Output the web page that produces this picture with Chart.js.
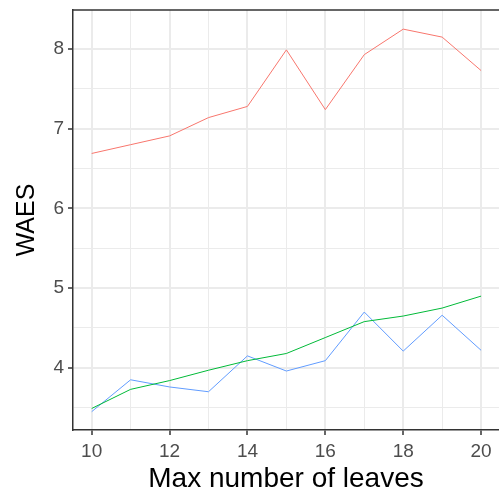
<!DOCTYPE html>
<html>
<head>
<meta charset="utf-8">
<script src="https://cdn.jsdelivr.net/npm/chart.js@4.4.1/dist/chart.umd.min.js"></script>
<style>
  html, body { margin: 0; padding: 0; background: #fff; }
  #wrap { width: 499px; height: 492px; }
</style>
</head>
<body>
<div id="wrap"><canvas id="waesChart"></canvas></div>
<script>
  let leaves = [10, 11, 12, 13, 14, 15, 16, 17, 18, 19, 20];
  let redWaes = [6.69, 6.80, 6.91, 7.14, 7.28, 7.99, 7.24, 7.93, 8.25, 8.15, 7.73];
  let greenWaes = [3.49, 3.73, 3.84, 3.97, 4.09, 4.18, 4.38, 4.58, 4.65, 4.75, 4.90];
  let blueWaes = [3.45, 3.85, 3.76, 3.70, 4.15, 3.96, 4.09, 4.70, 4.21, 4.66, 4.22];

  let xTicks = [10, 11, 12, 13, 14, 15, 16, 17, 18, 19, 20];
  let yTicks = [3.5, 4, 4.5, 5, 5.5, 6, 6.5, 7, 7.5, 8];

  function points(ys) {
    return leaves.map(function (x, i) { return { x: x, y: ys[i] }; });
  }

  let xMajor = function (v) { return v % 2 === 0; };
  let yMajor = function (v) { return Number.isInteger(v); };

  // top edge of the panel box; left/bottom come from the axis borders
  let panelBox = {
    id: 'panelBox',
    afterDraw: function (chart) {
      let a = chart.chartArea;
      let c = chart.ctx;
      c.save();
      c.strokeStyle = '#333333';
      c.lineWidth = 1.5;
      c.beginPath();
      c.moveTo(a.left, a.top);
      c.lineTo(a.right, a.top);
      c.stroke();
      c.restore();
    }
  };

  let ctx = document.getElementById('waesChart').getContext('2d');

  let waesChart = new Chart(ctx, {
    type: 'line',
    data: {
      datasets: [
        { data: points(redWaes), borderColor: '#F8766D' },
        { data: points(greenWaes), borderColor: '#00BA38' },
        { data: points(blueWaes), borderColor: '#619CFF' }
      ]
    },
    options: {
      responsive: true,
      maintainAspectRatio: false,
      animation: false,
      events: [],
      elements: {
        line: { borderWidth: 1, tension: 0, fill: false },
        point: { radius: 0 }
      },
      layout: { padding: { top: 10, right: 0, left: 0, bottom: 0 } },
      plugins: { legend: { display: false }, tooltip: { enabled: false } },
      scales: {
        x: {
          type: 'linear',
          min: 9.52,
          max: 20.46,
          afterBuildTicks: function (scale) {
            scale.ticks = xTicks.map(function (v) { return { value: v }; });
          },
          afterFit: function (scale) {
            scale.height = 62;
            scale.paddingLeft = 0;
            scale.paddingRight = 0;
          },
          grid: {
            color: '#EBEBEB',
            lineWidth: function (c) { return xMajor(c.tick.value) ? 2 : 1; },
            tickColor: function (c) { return xMajor(c.tick.value) ? '#333333' : 'rgba(0,0,0,0)'; },
            tickLength: 5,
            tickWidth: 1.5
          },
          border: { display: true, color: '#333333', width: 1.5 },
          ticks: {
            color: '#4D4D4D',
            padding: 5,
            maxRotation: 0,
            autoSkip: false,
            font: { family: 'Liberation Sans', size: 19 },
            callback: function (v) { return xMajor(v) ? String(v) : ''; }
          },
          title: {
            display: true,
            text: 'Max number of leaves',
            color: '#000000',
            font: { family: 'Liberation Sans', size: 28, lineHeight: 0.9 },
            padding: { top: 0, bottom: 0 }
          }
        },
        y: {
          type: 'linear',
          min: 3.22,
          max: 8.49,
          afterBuildTicks: function (scale) {
            scale.ticks = yTicks.map(function (v) { return { value: v }; });
          },
          afterFit: function (scale) {
            scale.width = 73;
            scale.paddingTop = 0;
            scale.paddingBottom = 0;
          },
          grid: {
            color: '#EBEBEB',
            lineWidth: function (c) { return yMajor(c.tick.value) ? 2 : 1; },
            tickColor: function (c) { return yMajor(c.tick.value) ? '#333333' : 'rgba(0,0,0,0)'; },
            tickLength: 5,
            tickWidth: 1.5
          },
          border: { display: true, color: '#333333', width: 1.5 },
          ticks: {
            color: '#4D4D4D',
            padding: 4,
            autoSkip: false,
            font: { family: 'Liberation Sans', size: 19 },
            callback: function (v) { return yMajor(v) ? String(v) : ''; }
          },
          title: {
            display: true,
            text: 'WAES',
            color: '#000000',
            font: { family: 'Liberation Sans', size: 25 },
            padding: { top: 12, bottom: 0 }
          }
        }
      }
    },
    plugins: [panelBox]
  });
</script>
</body>
</html>
